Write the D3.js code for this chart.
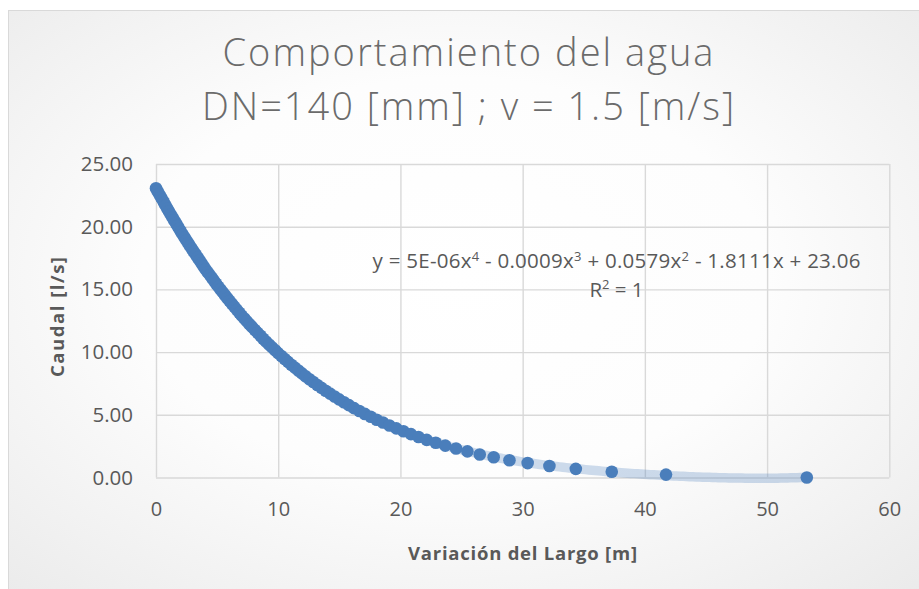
<!DOCTYPE html>
<html><head><meta charset="utf-8">
<script src="https://cdn.jsdelivr.net/npm/d3@7"></script>
<style>html,body{margin:0;padding:0;background:#fff;} svg{display:block;}</style>
</head><body>
<svg id="chart" width="919" height="589"></svg>
<script>
const titleLines = ["Comportamiento del agua", "DN=140 [mm] ; v = 1.5 [m/s]"];
const xLabel = "Variación del Largo [m]";
const yLabel = "Caudal [l/s]";
const xTicks = [0, 10, 20, 30, 40, 50, 60];
const yTicks = [0, 5, 10, 15, 20, 25];
const largo = [
  0, 0.13, 0.26, 0.39, 0.53, 0.66, 0.79, 0.92, 1.06, 1.20,
  1.34, 1.48, 1.62, 1.76, 1.90, 2.04, 2.19, 2.34, 2.49, 2.64,
  2.79, 2.94, 3.10, 3.26, 3.42, 3.58, 3.74, 3.90, 4.06, 4.23,
  4.41, 4.58, 4.75, 4.92, 5.10, 5.28, 5.47, 5.65, 5.84, 6.02,
  6.22, 6.42, 6.62, 6.82, 7.01, 7.23, 7.44, 7.65, 7.87, 8.09,
  8.32, 8.55, 8.77, 9.00, 9.25, 9.50, 9.75, 9.99, 10.26, 10.53,
  10.80, 11.07, 11.36, 11.65, 11.94, 12.24, 12.56, 12.87, 13.20, 13.54,
  13.88, 14.24, 14.61, 14.98, 15.38, 15.78, 16.20, 16.64, 17.09, 17.57,
  18.05, 18.57, 19.10, 19.66, 20.25, 20.86, 21.48, 22.15, 22.89, 23.67,
  24.55, 25.48, 26.49, 27.63, 28.92, 30.41, 32.19, 34.35, 37.29, 41.73, 53.25
];
const caudal = [
  23.06, 22.83, 22.60, 22.37, 22.14, 21.91, 21.68, 21.45, 21.22, 20.98,
  20.75, 20.52, 20.29, 20.06, 19.83, 19.60, 19.37, 19.14, 18.91, 18.68,
  18.45, 18.22, 17.99, 17.76, 17.53, 17.30, 17.06, 16.83, 16.60, 16.37,
  16.14, 15.91, 15.68, 15.45, 15.22, 14.99, 14.76, 14.53, 14.30, 14.07,
  13.84, 13.61, 13.37, 13.14, 12.91, 12.68, 12.45, 12.22, 11.99, 11.76,
  11.53, 11.30, 11.07, 10.84, 10.61, 10.38, 10.15, 9.92, 9.69, 9.45,
  9.22, 8.99, 8.76, 8.53, 8.30, 8.07, 7.84, 7.61, 7.38, 7.15,
  6.92, 6.69, 6.46, 6.23, 6.00, 5.77, 5.53, 5.30, 5.07, 4.84,
  4.61, 4.38, 4.15, 3.92, 3.69, 3.46, 3.23, 3.00, 2.77, 2.54,
  2.31, 2.08, 1.84, 1.61, 1.38, 1.15, 0.92, 0.69, 0.46, 0.23, 0.00
];
const trendDegree = 4;

const svg = d3.select("#chart");
const W = 919, H = 589;
const plot = {left: 156, right: 889.3, top: 164, bottom: 477.5};
const FONT = "'Open Sans', 'DejaVu Sans', sans-serif";
const TXT = "#595959";

// background
const defs = svg.append("defs");
const grad = defs.append("radialGradient").attr("id", "bg").attr("cx", "48%").attr("cy", "45%").attr("r", "75%");
grad.append("stop").attr("offset", "0%").attr("stop-color", "#ffffff");
grad.append("stop").attr("offset", "45%").attr("stop-color", "#fdfdfd");
grad.append("stop").attr("offset", "100%").attr("stop-color", "#e9e9e9");
svg.append("rect").attr("width", W).attr("height", H).attr("fill", "#ffffff");
svg.append("rect").attr("x", 8.5).attr("y", 10.5).attr("width", W + 10).attr("height", H + 10)
  .attr("fill", "url(#bg)").attr("stroke", "#d9d9d9").attr("stroke-width", 1);

const x = d3.scaleLinear().domain([0, 60]).range([plot.left, plot.right]);
const y = d3.scaleLinear().domain([0, 25]).range([plot.bottom, plot.top]);

// y axis + horizontal gridlines
const gy = svg.append("g").attr("transform", `translate(${plot.left},0)`)
  .call(d3.axisLeft(y).tickValues(yTicks).tickFormat(d3.format(".2f"))
    .tickSize(-(plot.right - plot.left)).tickPadding(23));
gy.select(".domain").remove();
gy.selectAll(".tick line").attr("stroke", "#d9d9d9").attr("stroke-width", 1.4);
gy.selectAll(".tick text").attr("fill", TXT).style("font-family", FONT).style("font-size", "20.5px");

// x axis + vertical gridlines
const gx = svg.append("g").attr("transform", `translate(0,${plot.bottom})`)
  .call(d3.axisBottom(x).tickValues(xTicks).tickFormat(d3.format("d"))
    .tickSize(-(plot.bottom - plot.top)).tickPadding(24));
gx.select(".domain").remove();
gx.selectAll(".tick line").attr("stroke", "#d9d9d9").attr("stroke-width", 1.4);
gx.selectAll(".tick text").attr("fill", TXT).style("font-family", FONT).style("font-size", "20px");

// polynomial least-squares trendline (order 4) computed from the data
function polyfit(xs, ys, deg) {
  const s = 60, n = deg + 1;
  const A = Array.from({length: n}, () => new Array(n + 1).fill(0));
  for (let i = 0; i < xs.length; i++) {
    const t = xs[i] / s; const pw = [1];
    for (let j = 1; j < 2 * n; j++) pw.push(pw[j - 1] * t);
    for (let r = 0; r < n; r++) {
      for (let c = 0; c < n; c++) A[r][c] += pw[r + c];
      A[r][n] += pw[r] * ys[i];
    }
  }
  for (let col = 0; col < n; col++) {
    let piv = col;
    for (let r = col + 1; r < n; r++) if (Math.abs(A[r][col]) > Math.abs(A[piv][col])) piv = r;
    [A[col], A[piv]] = [A[piv], A[col]];
    for (let r = 0; r < n; r++) {
      if (r === col) continue;
      const f = A[r][col] / A[col][col];
      for (let c = col; c <= n; c++) A[r][c] -= f * A[col][c];
    }
  }
  const coef = A.map((row, i) => row[n] / row[i]);
  return v => coef.reduce((acc, c, j) => acc + c * Math.pow(v / s, j), 0);
}
const fit = polyfit(largo, caudal, trendDegree);
const xMin = d3.min(largo), xMax = d3.max(largo);
const samples = d3.range(0, 201).map(i => xMin + (xMax - xMin) * i / 200);
svg.append("path")
  .attr("d", d3.line().x(d => x(d)).y(d => y(fit(d))).curve(d3.curveLinear)(samples))
  .attr("fill", "none").attr("stroke", "#4a7ebb").attr("stroke-opacity", 0.27)
  .attr("stroke-width", 9.5).attr("stroke-linecap", "butt");

// points
svg.append("g").selectAll("circle").data(largo.map((v, i) => [v, caudal[i]])).join("circle")
  .attr("cx", d => x(d[0])).attr("cy", d => y(d[1])).attr("r", 6.3).attr("fill", "#4a7ebb");

// title
const title = svg.append("g").style("font-family", FONT).style("font-weight", 300)
  .style("font-size", "38px").attr("fill", "#6b6b6b").attr("text-anchor", "middle");
title.append("text").attr("x", 468).attr("y", 66).attr("textLength", 491)
  .attr("lengthAdjust", "spacing").text(titleLines[0]);
title.append("text").attr("x", 468).attr("y", 119.5).attr("textLength", 532)
  .attr("lengthAdjust", "spacing").text(titleLines[1]);

// equation + R²
const eq = svg.append("text").attr("x", 616.5).attr("y", 268).attr("text-anchor", "middle")
  .attr("fill", TXT).style("font-family", FONT).style("font-size", "20.5px")
  .attr("textLength", 488).attr("lengthAdjust", "spacing");
const parts = [["y = 5E-06x", ""], ["4", "sup"], [" - 0.0009x", ""], ["3", "sup"],
  [" + 0.0579x", ""], ["2", "sup"], [" - 1.8111x + 23.06", ""]];
parts.forEach(([t, k], i) => {
  const ts = eq.append("tspan").text(t);
  if (k === "sup") ts.attr("dy", -7.5).style("font-size", "13px");
  else if (i > 0 && parts[i - 1][1] === "sup") ts.attr("dy", 7.5);
});
const r2 = svg.append("text").attr("x", 616.5).attr("y", 296.5).attr("text-anchor", "middle")
  .attr("fill", TXT).style("font-family", FONT).style("font-size", "20.5px");
r2.append("tspan").text("R");
r2.append("tspan").attr("dy", -7.5).style("font-size", "13px").text("2");
r2.append("tspan").attr("dy", 7.5).text(" = 1");

// axis titles
svg.append("text").attr("x", 522.5).attr("y", 560).attr("text-anchor", "middle")
  .attr("fill", TXT).style("font-family", FONT).style("font-weight", 700).style("font-size", "18.5px")
  .attr("textLength", 229).attr("lengthAdjust", "spacing").text(xLabel);
svg.append("text").attr("transform", "translate(64,317) rotate(-90)").attr("text-anchor", "middle")
  .attr("fill", TXT).style("font-family", FONT).style("font-weight", 700).style("font-size", "18.5px")
  .attr("textLength", 120).attr("lengthAdjust", "spacing").text(yLabel);
</script>
</body></html>
